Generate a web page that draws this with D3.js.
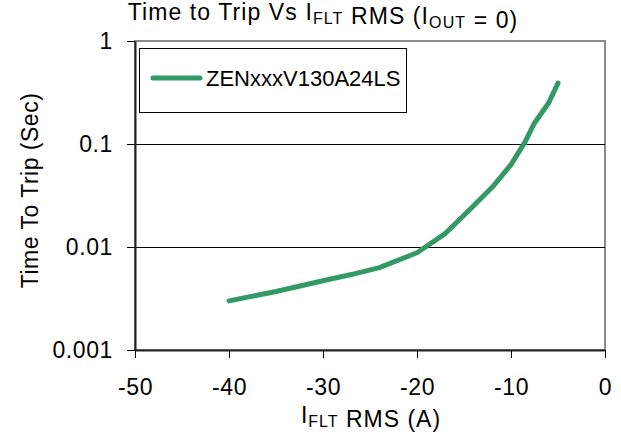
<!DOCTYPE html>
<html>
<head>
<meta charset="utf-8">
<script src="https://cdn.jsdelivr.net/npm/d3@7"></script>
<style>
  body { margin: 0; background: #fff; }
  svg { display: block; font-family: "Liberation Sans", Arial, sans-serif; }
</style>
</head>
<body>
<div id="chart"></div>
<script>
// Trip curve
const currentRms = [-40, -35, -30, -27, -24, -20, -17, -14, -12, -10, -8.5, -7.5, -6, -5];
const tripTime = [0.0030, 0.0037, 0.0047, 0.0054, 0.0063, 0.0088, 0.0135, 0.025, 0.038, 0.063, 0.105, 0.16, 0.25, 0.39];
const seriesName = "ZENxxxV130A24LS";
const xTicks = [-50, -40, -30, -20, -10, 0];
const yTicks = [0.001, 0.01, 0.1, 1];
const yTickLabels = ["0.001", "0.01", "0.1", "1"];

const width = 621, height = 444;
const margin = { top: 41, right: 16, bottom: 94, left: 135 };
const fontSize = 23;
const green = "#339966";

const svg = d3.select("#chart").append("svg")
    .attr("width", width)
    .attr("height", height);

const x = d3.scaleLinear()
    .domain([-50, 0])
    .range([margin.left, width - margin.right]);

const y = d3.scaleLog()
    .domain([0.001, 1])
    .range([height - margin.bottom, margin.top]);

// plot area border (top/right are grey in the original)
svg.append("rect")
    .attr("x", x(-50))
    .attr("y", y(1))
    .attr("width", x(0) - x(-50))
    .attr("height", y(0.001) - y(1))
    .attr("fill", "none")
    .attr("stroke", "#8c8c8c")
    .attr("stroke-width", 2);

// gridlines at the inner decades
svg.append("g")
    .selectAll("line")
    .data(yTicks.slice(1, -1))
    .join("line")
    .attr("x1", x(-50))
    .attr("x2", x(0))
    .attr("y1", d => Math.round(y(d)) + 0.5)
    .attr("y2", d => Math.round(y(d)) + 0.5)
    .attr("stroke", "#000")
    .attr("stroke-width", 1);

const xAxis = svg.append("g")
    .attr("transform", `translate(0,${y(0.001)})`)
    .call(d3.axisBottom(x).tickValues(xTicks).tickSize(8).tickSizeOuter(0).tickPadding(21)
        .tickFormat(d => String(d)));

const yAxis = svg.append("g")
    .attr("transform", `translate(${x(-50)},0)`)
    .call(d3.axisLeft(y).tickValues(yTicks).tickSize(8).tickSizeOuter(0).tickPadding(14)
        .tickFormat((d, i) => yTickLabels[i]));

[xAxis, yAxis].forEach(g => {
    g.selectAll("text")
        .attr("font-family", "Liberation Sans, Arial, sans-serif")
        .attr("font-size", fontSize)
        .attr("letter-spacing", 0.6)
        .attr("fill", "#000");
    g.selectAll("line").attr("stroke", "#000");
    g.select(".domain").attr("stroke", "#222").attr("stroke-width", 2);
});

const line = d3.line()
    .x(d => x(d[0]))
    .y(d => y(d[1]));

svg.append("path")
    .datum(d3.zip(currentRms, tripTime))
    .attr("d", line)
    .attr("fill", "none")
    .attr("stroke", green)
    .attr("stroke-width", 5)
    .attr("stroke-linecap", "round")
    .attr("stroke-linejoin", "round");

// legend
const legend = svg.append("g");
legend.append("rect")
    .attr("x", 139.5)
    .attr("y", 48.5)
    .attr("width", 267)
    .attr("height", 64)
    .attr("fill", "#fff")
    .attr("stroke", "#000")
    .attr("stroke-width", 1);
legend.append("line")
    .attr("x1", 153)
    .attr("x2", 200)
    .attr("y1", 78)
    .attr("y2", 78)
    .attr("stroke", green)
    .attr("stroke-width", 5)
    .attr("stroke-linecap", "round");
legend.append("text")
    .attr("x", 206)
    .attr("y", 86)
    .attr("font-size", 22)
    .text(seriesName);

// text with a subscript, e.g. I_FLT
function subText(sel, parts) {
    parts.forEach(p => {
        if (p.sub) {
            sel.append("tspan").attr("font-size", 16).attr("dy", 4).text(p.sub);
            sel.append("tspan").attr("dy", -4).text("");
        } else {
            sel.append("tspan").text(p.t);
        }
    });
}

const title = svg.append("text")
    .attr("x", 323)
    .attr("y", 20)
    .attr("text-anchor", "middle")
    .attr("font-size", fontSize)
    .attr("letter-spacing", 1.1);
subText(title, [{ t: "Time to Trip Vs I" }, { sub: "FLT" }, { t: " RMS (I" }, { sub: "OUT" }, { t: " = 0)" }]);

const xTitle = svg.append("text")
    .attr("x", (x(-50) + x(0)) / 2 + 1)
    .attr("y", 423)
    .attr("text-anchor", "middle")
    .attr("font-size", fontSize)
    .attr("letter-spacing", 1);
subText(xTitle, [{ t: "I" }, { sub: "FLT" }, { t: " RMS (A)" }]);

svg.append("text")
    .attr("transform", `translate(38,${(y(1) + y(0.001)) / 2 - 5}) rotate(-90)`)
    .attr("text-anchor", "middle")
    .attr("font-size", fontSize)
    .attr("letter-spacing", 0.5)
    .text("Time To Trip (Sec)");
</script>
</body>
</html>
